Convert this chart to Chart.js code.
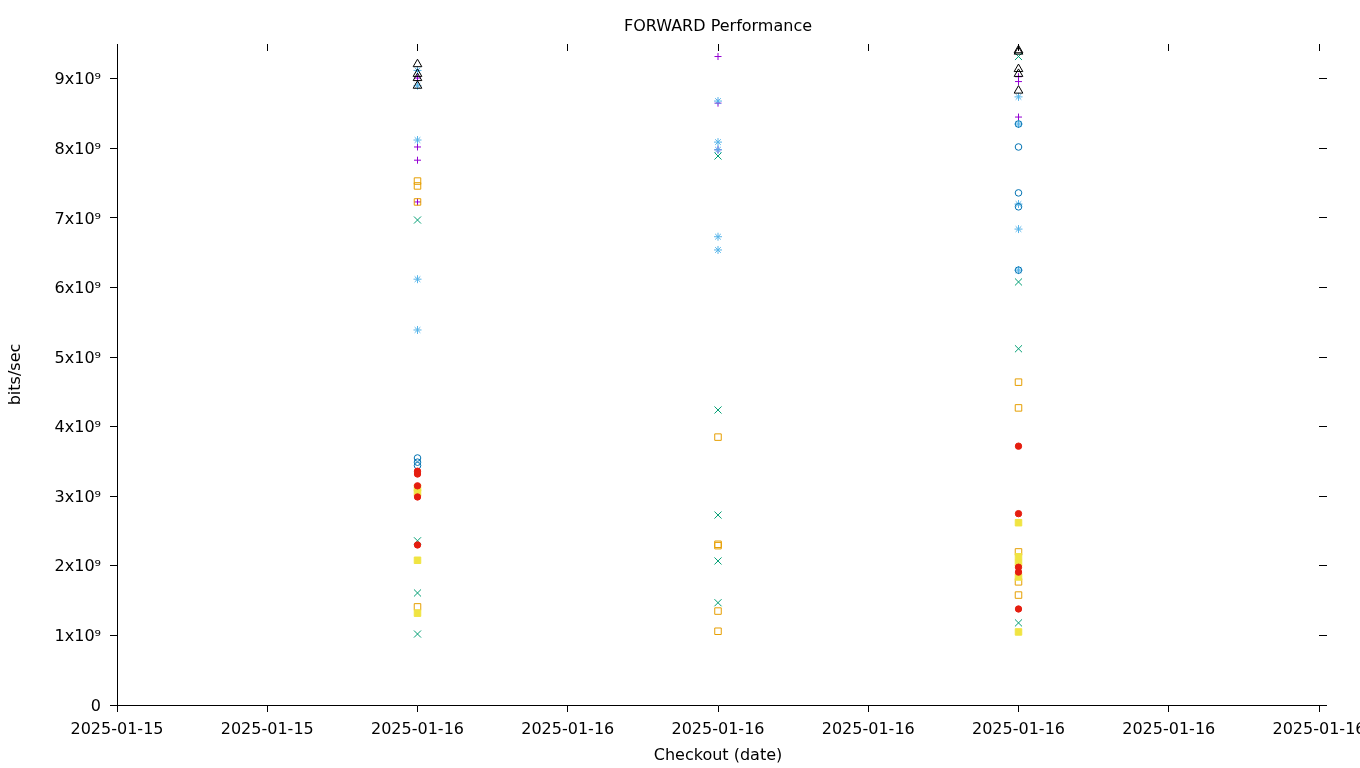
<!DOCTYPE html>
<html><head><meta charset="utf-8">
<script src="https://cdn.jsdelivr.net/npm/chart.js@4.4.1/dist/chart.umd.min.js"></script>
<style>html,body{margin:0;padding:0;background:#fff;} canvas{display:block;}</style>
</head><body>
<canvas id="c" width="1360" height="768"></canvas>
<script>
// ---- Tick labels / categories ----
const xTickLabels = ['2025-01-15','2025-01-15','2025-01-16','2025-01-16','2025-01-16','2025-01-16','2025-01-16','2025-01-16','2025-01-16'];
const checkoutPositions = [2, 4, 6];   // tick index of each checkout on the time axis
const yTickValues = [0, 1e9, 2e9, 3e9, 4e9, 5e9, 6e9, 7e9, 8e9, 9e9];
const yTickLabels = ['0', '1x10⁹', '2x10⁹', '3x10⁹', '4x10⁹', '5x10⁹', '6x10⁹', '7x10⁹', '8x10⁹', '9x10⁹'];

// ---- Series values (bits/sec) per checkout ----
const seriesPlus     = [[9.01e9, 8.02e9, 7.83e9, 7.23e9], [9.32e9, 8.65e9, 7.98e9], [9.03e9, 8.96e9, 8.45e9]];
const seriesCross    = [[6.97e9, 2.36e9, 1.61e9, 1.02e9], [7.89e9, 4.24e9, 2.73e9, 2.07e9, 1.47e9], [9.32e9, 6.08e9, 5.12e9, 1.18e9]];
const seriesStar     = [[9.12e9, 8.90e9, 8.12e9, 6.12e9, 5.39e9], [8.68e9, 8.09e9, 7.98e9, 6.73e9, 6.54e9], [8.74e9, 8.35e9, 7.20e9, 6.84e9, 6.25e9]];
const seriesOpenSq   = [[7.53e9, 7.46e9, 7.23e9, 1.41e9], [3.85e9, 2.31e9, 2.29e9, 1.35e9, 1.06e9], [4.64e9, 4.27e9, 2.20e9, 1.77e9, 1.58e9]];
const seriesFilledSq = [[3.12e9, 3.05e9, 2.08e9, 1.32e9], [], [2.62e9, 2.13e9, 2.04e9, 1.84e9, 1.05e9]];
const seriesOpenCirc = [[3.55e9, 3.49e9, 3.44e9], [], [8.35e9, 8.02e9, 7.36e9, 7.16e9, 6.25e9]];
const seriesDot      = [[3.36e9, 3.32e9, 3.15e9, 2.99e9, 2.30e9], [], [3.72e9, 2.75e9, 1.98e9, 1.91e9, 1.38e9]];
const seriesTriangle = [[9.21e9, 9.07e9, 9.01e9, 8.90e9], [], [9.41e9, 9.39e9, 9.14e9, 9.07e9, 8.83e9]];

const styles = [
  {vals: seriesPlus,     color: '#9400d3', style: 'cross',    r: 3.5, fill: false},
  {vals: seriesCross,    color: '#009e73', style: 'crossRot', r: 5,   fill: false},
  {vals: seriesStar,     color: '#56b4e9', style: 'star',     r: 4,   fill: false},
  {vals: seriesOpenSq,   color: '#e69f00', style: 'rect',     r: 4.6, fill: false},
  {vals: seriesFilledSq, color: '#f0e442', style: 'rect',     r: 4.6, fill: true},
  {vals: seriesOpenCirc, color: '#0072b2', style: 'circle',   r: 3.3, fill: false},
  {vals: seriesDot,      color: '#e51e10', style: 'circle',   r: 3.2, fill: true},
  {vals: seriesTriangle, color: '#000000', style: 'triangle', r: 5,   fill: false}
];

const datasets = styles.map((s, i) => ({
  label: 'series' + (i + 1),
  data: s.vals.flatMap((arr, k) => arr.map(v => ({x: checkoutPositions[k], y: v}))),
  pointStyle: s.style,
  pointRadius: s.r,
  pointHoverRadius: s.r,
  borderWidth: 1,
  borderColor: s.color,
  backgroundColor: s.fill ? s.color : 'rgba(0,0,0,0)',
  showLine: false,
  order: styles.length - i
}));

Chart.defaults.font.family = "'DejaVu Sans', sans-serif";
Chart.defaults.font.size = 16;
Chart.defaults.color = '#000';

const fixW = w => s => { s.width = w; s.paddingTop = 0; s.paddingBottom = 0; };
const fixH = h => s => { s.height = h; s.paddingLeft = 0; s.paddingRight = 0; };
const xTicks = s => { s.ticks = xTickLabels.map((_, i) => ({value: i})); };
const yTicks = s => { s.ticks = yTickValues.map(v => ({value: v})); };

new Chart(document.getElementById('c'), {
  type: 'scatter',
  data: {datasets},
  options: {
    responsive: false,
    animation: false,
    layout: {padding: 0},
    plugins: {legend: {display: false}, tooltip: {enabled: false}, title: {display: false}},
    scales: {
      x: {
        type: 'linear', position: 'bottom', min: 0, max: xTickLabels.length - 1,
        afterBuildTicks: xTicks, afterFit: fixH(63),
        grid: {drawOnChartArea: false, drawTicks: true, tickLength: 7, color: '#000', tickColor: '#000'},
        border: {display: true, color: '#000', width: 1},
        ticks: {autoSkip: false, maxRotation: 0, minRotation: 0, padding: 8, color: '#000',
                callback: (v, i) => xTickLabels[i]},
        title: {display: true, text: 'Checkout (date)', color: '#000', padding: {top: 0, bottom: 2.5}}
      },
      x2: {
        type: 'linear', position: 'top', min: 0, max: xTickLabels.length - 1,
        afterBuildTicks: xTicks, afterFit: fixH(44),
        grid: {drawOnChartArea: false, drawTicks: true, tickLength: -7, color: '#000', tickColor: '#000'},
        border: {display: false},
        ticks: {display: false},
        title: {display: true, text: 'FORWARD Performance', color: '#000', padding: {top: 17, bottom: 0}}
      },
      y: {
        type: 'linear', position: 'left', min: 0, max: 9.5e9,
        afterBuildTicks: yTicks, afterFit: fixW(117),
        grid: {drawOnChartArea: false, drawTicks: true, tickLength: 7, color: '#000', tickColor: '#000'},
        border: {display: true, color: '#000', width: 1},
        ticks: {padding: 9, labelOffset: 1.5, color: '#000', callback: (v, i) => yTickLabels[i]},
        title: {display: true, text: 'bits/sec', color: '#000', padding: {top: 6.4, bottom: 0}}
      },
      y2: {
        type: 'linear', position: 'right', min: 0, max: 9.5e9,
        afterBuildTicks: yTicks, afterFit: fixW(41),
        grid: {drawOnChartArea: false, drawTicks: true, tickLength: 8, color: '#000', tickColor: '#000'},
        border: {display: false},
        ticks: {display: false}
      }
    }
  }
});
</script>
</body></html>
